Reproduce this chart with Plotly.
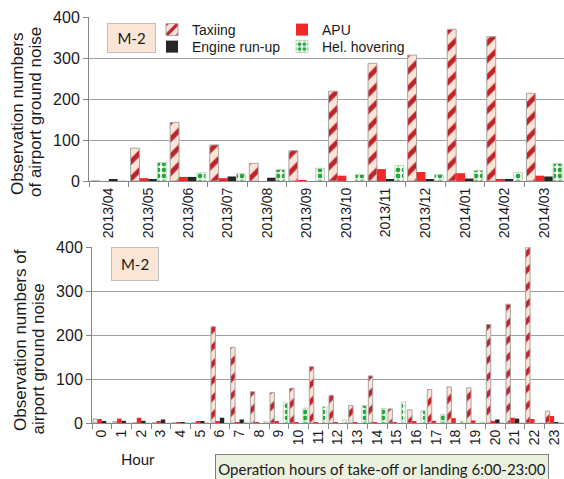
import plotly.graph_objects as go

# ---- monthly counts ----
months = ["2013/04", "2013/05", "2013/06", "2013/07", "2013/08", "2013/09",
          "2013/10", "2013/11", "2013/12", "2014/01", "2014/02", "2014/03"]
m_taxiing = [0, 80, 143, 88, 43, 74, 219, 287, 307, 370, 352, 214]
m_apu = [0, 7, 10, 7, 0, 1, 13, 29, 22, 19, 5, 13]
m_engine = [3, 3, 10, 11, 8, 0, 0, 5, 4, 6, 5, 11]
m_hel = [0, 45, 20, 18, 28, 31, 16, 38, 16, 26, 21, 43]

# ---- hourly counts ----
hours = [str(h) for h in range(24)]
h_taxiing = [9, 3, 0, 0, 0, 0, 219, 172, 71, 69, 79, 128,
             63, 40, 107, 32, 30, 76, 82, 80, 224, 270, 400, 27]
h_apu = [9, 10, 12, 4, 2, 4, 3, 2, 2, 3, 1, 1,
         1, 2, 1, 1, 3, 5, 11, 6, 5, 12, 9, 16]
h_engine = [4, 5, 5, 8, 2, 3, 12, 8, 0, 0, 0, 0,
            0, 0, 0, 0, 0, 0, 0, 0, 8, 10, 0, 2]
h_hel = [0, 0, 0, 0, 0, 0, 0, 2, 3, 46, 34, 37,
         7, 40, 33, 48, 28, 20, 4, 2, 0, 0, 0, 0]

y_ticks = [0, 100, 200, 300, 400]

W, H = 564, 479
FONT = "Liberation Sans, Arial, sans-serif"
BOXFONT = "Lato, Open Sans, sans-serif"

taxi_style = dict(
    color="#FCE4D6",
    line=dict(color="#A6A6A6", width=1),
    pattern=dict(shape="/", fgcolor="#C0222A", bgcolor="#FCE4D6",
                 size=12, solidity=0.4, fillmode="overlay", fgopacity=1),
)
apu_style = dict(color="#F02828", line=dict(width=0))
engine_style = dict(color="#262626", line=dict(width=0))
hel_style = dict(
    color="#FFFFFF",
    line=dict(color="#C4D6BE", width=1),
    pattern=dict(shape=".", fgcolor="#22A83A", bgcolor="#FFFFFF",
                 size=6, solidity=0.5, fillmode="overlay", fgopacity=1),
)

fig = go.Figure()

# each legend entry sits in its own small legend box: (legend id, left px, top px)
series = [
    ("Taxiing", m_taxiing, h_taxiing, taxi_style, "legend"),
    ("APU", m_apu, h_apu, apu_style, "legend2"),
    ("Engine run-up", m_engine, h_engine, engine_style, "legend3"),
    ("Hel. hovering", m_hel, h_hel, hel_style, "legend4"),
]
legend_pos = {"legend": (152, 14), "legend2": (282, 14),
              "legend3": (152, 31), "legend4": (282, 31)}

for name, mvals, hvals, style, leg in series:
    fig.add_trace(go.Bar(x=months, y=mvals, name=name, marker=style,
                         xaxis="x", yaxis="y", legend=leg, showlegend=True))
    fig.add_trace(go.Bar(x=hours, y=hvals, name=name, marker=style,
                         xaxis="x2", yaxis="y2", showlegend=False))

axis_common = dict(showline=True, linecolor="#868686", linewidth=1,
                   ticks="outside", tickcolor="#868686", ticklen=5,
                   zeroline=False, automargin=False)

fig.update_layout(
    width=W, height=H,
    margin=dict(l=0, r=0, t=0, b=0, autoexpand=False),
    paper_bgcolor="white", plot_bgcolor="white",
    barmode="group", bargap=0.1, bargroupgap=0,
    font=dict(family=FONT, color="#1a1a1a"),
    xaxis=dict(domain=[89 / W, 1.0], anchor="y", type="category",
               tickson="boundaries", tickangle=-90,
               tickfont=dict(size=14), showgrid=False, **axis_common),
    yaxis=dict(domain=[1 - 181 / H, 1 - 17 / H], anchor="x",
               range=[0, 400], tickvals=y_ticks, tickfont=dict(size=16),
               showgrid=True, gridcolor="#A0A0A0", gridwidth=1, **axis_common),
    xaxis2=dict(domain=[92 / W, 1.0], anchor="y2", type="category",
                tickson="boundaries", tickangle=-90,
                tickfont=dict(size=14), showgrid=False, **axis_common),
    yaxis2=dict(domain=[1 - 423 / H, 1 - 247 / H], anchor="x2",
                range=[0, 400], tickvals=y_ticks, tickfont=dict(size=16),
                showgrid=True, gridcolor="#A0A0A0", gridwidth=1, **axis_common),
)

for leg, (lx, ly) in legend_pos.items():
    fig.update_layout({leg: dict(x=lx / W, y=1 - ly / H, xanchor="left",
                                 yanchor="top", bgcolor="rgba(0,0,0,0)",
                                 font=dict(size=14, family=FONT),
                                 tracegroupgap=0, itemwidth=30)})

annotations = []

# y-axis titles, one annotation per line
def vline(text, xc, ybottom):
    annotations.append(dict(text=text, x=xc / W, y=1 - ybottom / H,
                            xref="paper", yref="paper", textangle=-90,
                            xanchor="center", yanchor="bottom", showarrow=False,
                            font=dict(size=17, family=FONT, color="#1a1a1a")))

vline("Observation numbers", 17.5, 197)
vline("of airport ground noise", 35, 199)
vline("Observation numbers of", 20, 433)
vline("airport ground noise", 38, 437)

# site label boxes
for xc, yc, w, h in [(131.5, 38, 47, 28), (135, 264, 46, 32)]:
    annotations.append(dict(text="M-2", x=xc / W, y=1 - yc / H,
                            xref="paper", yref="paper", showarrow=False,
                            xanchor="center", yanchor="middle",
                            width=w, height=h, borderpad=0, borderwidth=1,
                            bordercolor="#BFBFBF", bgcolor="#FBE5D6",
                            font=dict(size=15, family=BOXFONT, color="#1a1a1a")))

annotations.append(dict(text="Hour", x=138 / W, y=1 - 459 / H,
                        xref="paper", yref="paper", showarrow=False,
                        xanchor="center", yanchor="middle",
                        font=dict(size=15, family=BOXFONT, color="#1a1a1a")))

annotations.append(dict(text="Operation hours of take-off or landing 6:00-23:00",
                        x=382 / W, y=1 - 468 / H, xref="paper", yref="paper",
                        showarrow=False, xanchor="center", yanchor="middle",
                        width=332, height=27, borderpad=0,
                        borderwidth=1, bordercolor="#7F7F7F", bgcolor="#EBF1DE",
                        font=dict(size=15, family=BOXFONT, color="#1a1a1a")))

fig.update_layout(annotations=annotations)

fig.write_html("out.html")
